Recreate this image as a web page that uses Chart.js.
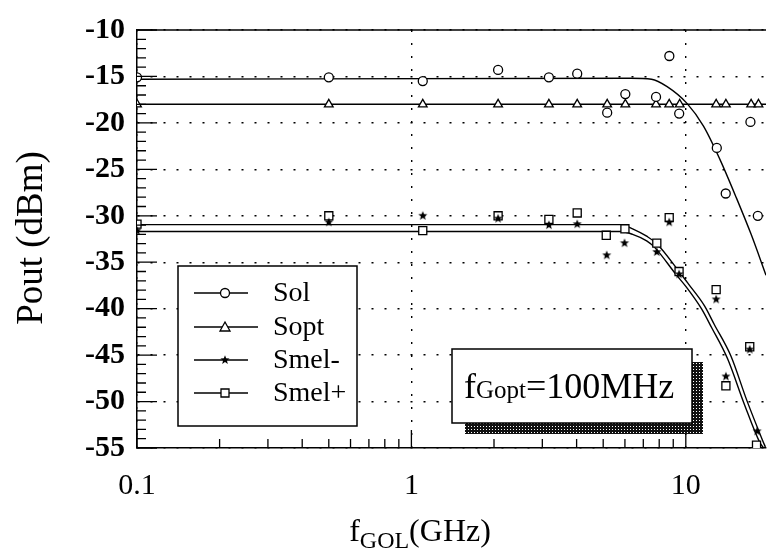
<!DOCTYPE html>
<html lang="en">
<head>
<meta charset="UTF-8">
<title>Pout vs fGOL</title>
<script src="https://cdn.jsdelivr.net/npm/chart.js@4.4.0/dist/chart.umd.min.js"></script>
<style>
  html, body { margin: 0; padding: 0; background: #fff; }
  #wrap { width: 773px; height: 556px; }
</style>
</head>
<body>
<div id="wrap"><canvas id="chart" width="773" height="556"></canvas></div>
<script>
// measured points, frequency in GHz, power in dBm
var solX  = [0.1, 0.5, 1.1, 2.07, 3.17, 4.02, 5.17, 6.02, 7.79, 8.71, 9.46, 12.97, 13.98, 17.2, 18.3];
var solY  = [-15.1, -15.1, -15.5, -14.3, -15.1, -14.7, -18.9, -16.9, -17.2, -12.8, -19.0, -22.7, -27.6, -19.9, -30.0];
var soptX = [0.1, 0.5, 1.1, 2.07, 3.17, 4.02, 5.17, 6.02, 7.79, 8.7, 9.5, 12.9, 14.0, 17.3, 18.4];
var soptY = [-18, -18, -18, -18, -18, -18, -18, -18, -18, -18, -18, -18, -18, -18, -18];
var smelMX = [0.1, 0.5, 1.1, 2.07, 3.17, 4.02, 5.15, 5.98, 7.84, 8.7, 9.45, 12.9, 14.0, 17.1, 18.2];
var smelMY = [-31.6, -30.7, -30.0, -30.3, -31.0, -30.9, -34.25, -32.95, -33.9, -30.7, -36.3, -39.0, -47.3, -44.4, -53.2];
var smelPX = [0.1, 0.5, 1.1, 2.07, 3.17, 4.02, 5.13, 6.0, 7.84, 8.7, 9.45, 12.9, 14.0, 17.1, 18.1];
var smelPY = [-30.9, -30.0, -31.6, -30.0, -30.4, -29.7, -32.1, -31.4, -32.95, -30.2, -36.0, -37.95, -48.3, -44.1, -54.7];

// fitted curves
var fitSolX  = [0.1, 6.3, 7.5, 8.55, 10.1, 11.6, 13.3, 15.3, 17.3, 19.6];
var fitSolY  = [-15.3, -15.2, -15.3, -16.1, -17.9, -20.35, -23.9, -28.1, -32.0, -36.4];
var fitSoptX = [0.1, 19.6];
var fitSoptY = [-18, -18];
var fitSmelPX = [0.1, 5.8, 6.4, 7.2, 7.84, 9.45, 10.2, 11.7, 12.7, 14.6, 16.7, 19.0, 19.5];
var fitSmelPY = [-30.95, -30.95, -31.4, -32.2, -33.0, -36.0, -37.3, -39.7, -41.7, -45.1, -49.9, -54.1, -54.9];
var fitSmelMX = [0.1, 5.8, 6.4, 7.2, 7.7, 9.2, 10.0, 11.4, 12.4, 14.2, 16.3, 18.6, 19.2];
var fitSmelMY = [-31.7, -31.7, -32.0, -32.7, -33.4, -36.3, -37.6, -40.0, -42.0, -45.4, -50.2, -54.4, -55.0];

var seriesNames = ['Sol', 'Sopt', 'Smel-', 'Smel+'];
var xMajor = [0.1, 1, 10];
var yMin = -55, yMax = -10, yStep = 5;
var xMin = 0.1, xMax = 19.6;

var SERIF = "'Liberation Serif', 'Times New Roman', serif";

function pts(xs, ys) {
  return xs.map(function (x, i) { return { x: x, y: ys[i] }; });
}

// small filled star used for Smel-
function starImage(r) {
  var c = document.createElement('canvas');
  var s = Math.ceil(r * 2 + 2);
  c.width = s; c.height = s;
  var g = c.getContext('2d');
  g.fillStyle = '#000';
  g.beginPath();
  for (var i = 0; i < 10; i++) {
    var rr = i % 2 === 0 ? r : r * 0.42;
    var a = -Math.PI / 2 + i * Math.PI / 5;
    var px = s / 2 + rr * Math.cos(a), py = s / 2 + rr * Math.sin(a);
    if (i === 0) g.moveTo(px, py); else g.lineTo(px, py);
  }
  g.closePath();
  g.fill();
  return c;
}
var star = starImage(4.8);

function markerSet(label, data, style, radius) {
  return {
    label: label, data: data, showLine: false,
    pointStyle: style, pointRadius: radius, pointHoverRadius: radius,
    pointBorderColor: '#000', pointBackgroundColor: '#fff', pointBorderWidth: 1.3
  };
}
function fitSet(data) {
  return {
    data: data, showLine: true, pointRadius: 0, borderColor: '#000',
    borderWidth: 1.4, tension: 0.4, cubicInterpolationMode: 'monotone', fill: false
  };
}

// minor ticks, frame top, axis titles, legend and the note box
var decor = {
  id: 'decor',
  afterDatasetsDraw: function (chart) {
    var ctx = chart.ctx, a = chart.chartArea;
    var xs = chart.scales.x, ys = chart.scales.y;
    ctx.save();
    ctx.strokeStyle = '#000';
    ctx.lineWidth = 1.5;
    ctx.beginPath();
    ctx.moveTo(a.left, a.top); ctx.lineTo(a.right, a.top);
    ctx.stroke();

    ctx.lineWidth = 1.3;
    ctx.beginPath();
    for (var v = yMin; v <= yMax; v++) {
      var py = ys.getPixelForValue(v);
      var len = (v % 5 === 0) ? 20 : 9;
      ctx.moveTo(a.left, py); ctx.lineTo(a.left + len, py);
    }
    for (var d = 0.1; d < 100; d *= 10) {
      for (var m = 1; m < 10; m++) {
        var val = d * m;
        if (val < xMin * 0.999 || val > xMax) continue;
        var px = xs.getPixelForValue(val);
        var l = (m === 1) ? 18 : 9;
        ctx.moveTo(px, a.bottom); ctx.lineTo(px, a.bottom - l);
      }
    }
    ctx.stroke();

    // y title
    ctx.fillStyle = '#000';
    ctx.save();
    ctx.translate(32, 238);
    ctx.rotate(-Math.PI / 2);
    ctx.font = '37px ' + SERIF;
    ctx.textAlign = 'center';
    ctx.textBaseline = 'middle';
    ctx.fillText('Pout (dBm)', 0, 0);
    ctx.restore();

    // x title f_GOL(GHz)
    ctx.textBaseline = 'alphabetic';
    ctx.textAlign = 'left';
    var big = '32px ' + SERIF, sub = '24px ' + SERIF;
    ctx.font = big; var w1 = ctx.measureText('f').width;
    ctx.font = sub; var w2 = ctx.measureText('GOL').width;
    ctx.font = big; var w3 = ctx.measureText('(GHz)').width;
    var tx = 420 - (w1 + w2 + w3) / 2, base = 541;
    ctx.font = big; ctx.fillText('f', tx, base);
    ctx.font = sub; ctx.fillText('GOL', tx + w1, base + 7);
    ctx.font = big; ctx.fillText('(GHz)', tx + w1 + w2, base);

    // legend
    var lx = 178, ly = 266, lw = 179, lh = 160;
    ctx.fillStyle = '#fff';
    ctx.fillRect(lx, ly, lw, lh);
    ctx.lineWidth = 1.5;
    ctx.strokeRect(lx, ly, lw, lh);
    var rows = [293, 327, 360, 393];
    ctx.font = '28px ' + SERIF;
    ctx.textBaseline = 'middle';
    rows.forEach(function (ry, i) {
      ctx.lineWidth = 1.3;
      ctx.beginPath();
      ctx.moveTo(194, ry); ctx.lineTo(i === 1 ? 258 : 248, ry);
      ctx.stroke();
      ctx.fillStyle = '#fff';
      ctx.beginPath();
      if (i === 0) {
        ctx.arc(225, ry, 4.5, 0, Math.PI * 2);
        ctx.fill(); ctx.stroke();
      } else if (i === 1) {
        ctx.moveTo(225, ry - 5); ctx.lineTo(230, ry + 4); ctx.lineTo(220, ry + 4); ctx.closePath();
        ctx.fill(); ctx.stroke();
      } else if (i === 2) {
        ctx.drawImage(star, 225 - star.width / 2, ry - star.height / 2);
      } else {
        ctx.rect(221, ry - 4, 8, 8);
        ctx.fill(); ctx.stroke();
      }
      ctx.fillStyle = '#000';
      ctx.fillText(seriesNames[i], 273, ry + 1);
    });

    // note box with hatched shadow
    var pc = document.createElement('canvas');
    pc.width = 3; pc.height = 3;
    var pg = pc.getContext('2d');
    pg.fillStyle = '#111'; pg.fillRect(0, 0, 3, 3);
    pg.fillStyle = '#fff'; pg.fillRect(0, 0, 1, 1);
    ctx.fillStyle = ctx.createPattern(pc, 'repeat');
    ctx.fillRect(465, 362, 238, 72);
    ctx.fillStyle = '#fff';
    ctx.fillRect(452, 349, 240, 74);
    ctx.lineWidth = 1.5;
    ctx.strokeRect(452, 349, 240, 74);
    ctx.fillStyle = '#000';
    ctx.textBaseline = 'alphabetic';
    var nb = '36px ' + SERIF, ns = '25px ' + SERIF;
    var nx = 464, nbase = 398;
    ctx.font = nb; ctx.fillText('f', nx, nbase); nx += ctx.measureText('f').width;
    ctx.font = ns; ctx.fillText('Gopt', nx, nbase); nx += ctx.measureText('Gopt').width;
    ctx.font = nb; ctx.fillText('=100MHz', nx, nbase);
    ctx.restore();
  }
};

new Chart(document.getElementById('chart').getContext('2d'), {
  type: 'scatter',
  data: {
    datasets: [
      markerSet(seriesNames[0], pts(solX, solY), 'circle', 4.5),
      markerSet(seriesNames[1], pts(soptX, soptY), 'triangle', 5),
      markerSet(seriesNames[2], pts(smelMX, smelMY), star, 4),
      markerSet(seriesNames[3], pts(smelPX, smelPY), 'rect', 5.7),
      fitSet(pts(fitSolX, fitSolY)),
      fitSet(pts(fitSoptX, fitSoptY)),
      fitSet(pts(fitSmelPX, fitSmelPY)),
      fitSet(pts(fitSmelMX, fitSmelMY))
    ]
  },
  options: {
    responsive: false,
    animation: false,
    devicePixelRatio: 1,
    layout: { padding: { top: 22, right: 0, left: 0, bottom: 0 } },
    plugins: { legend: { display: false }, tooltip: { enabled: false } },
    scales: {
      x: {
        type: 'logarithmic', min: xMin, max: xMax,
        afterFit: function (s) { s.height = 108; },
        afterBuildTicks: function (s) { s.ticks = xMajor.map(function (v) { return { value: v }; }); },
        ticks: {
          color: '#000', padding: 20, maxRotation: 0, autoSkip: false,
          font: { family: SERIF, size: 30 },
          callback: function (v) { return String(v); }
        },
        grid: { color: '#000', lineWidth: 1.4, drawTicks: false },
        border: { display: true, color: '#000', width: 1.5, dash: [2, 11] }
      },
      y: {
        min: yMin, max: yMax,
        afterFit: function (s) { s.width = 137; },
        ticks: {
          stepSize: yStep, color: '#000', padding: 12,
          font: { family: SERIF, size: 30, weight: 'bold' }
        },
        grid: { color: '#000', lineWidth: 1.4, drawTicks: false },
        border: { display: true, color: '#000', width: 1.5, dash: [2, 11] }
      }
    }
  },
  plugins: [decor]
});
</script>
</body>
</html>
